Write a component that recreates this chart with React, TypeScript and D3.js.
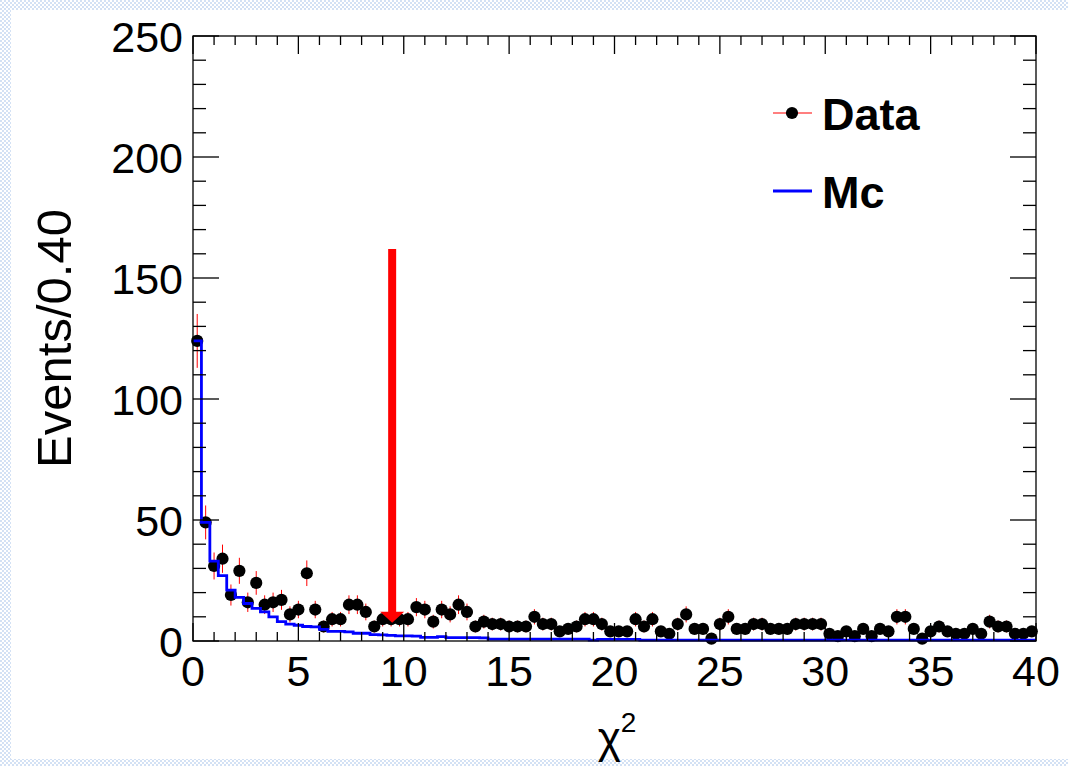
import React from "react";
import * as d3 from "d3";

// ---- data (bin width 0.40, range 0..40) ----
const binEdges0 = 0;
const binWidth = 0.4;
const dataCounts = [
  124, 49, 31, 34, 19, 29, 16, 24, 15, 16, 17, 11, 13, 28, 13, 6, 9, 9, 15, 15,
  12, 6, 9, 9, 9, 9, 14, 13, 8, 13, 11, 15, 12, 6, 8, 7, 7, 6, 6, 6,
  10, 7, 7, 4, 5, 6, 9, 9, 7, 4, 4, 4, 9, 6, 9, 4, 3, 7, 11, 5,
  5, 1, 7, 10, 5, 5, 7, 7, 5, 5, 5, 7, 7, 7, 7, 3, 2, 4, 2, 5,
  2, 5, 4, 10, 10, 5, 1, 4, 6, 4, 3, 3, 5, 3, 8, 6, 6, 3, 3, 4,
];
const mcValues = [
  124, 49, 33, 27, 21, 18, 15.5, 13.5, 12, 10, 8, 7, 6.5, 6, 5.8, 4.8, 4, 4, 3.8, 3.2,
  3.2, 2.6, 2.5, 2.3, 2.1, 2.1, 2.0, 1.5, 1.5, 1.8, 1.4, 1.4, 1.4, 1.4, 1.3, 0.8, 0.8, 0.8, 0.8, 0.8,
  0.8, 0.8, 0.8, 0.8, 0.8, 0.8, 0.8, 0.4, 0.7, 0.7, 0.7, 0.7, 0.7, 0.4, 0.4, 0.4, 0.4, 0.4, 0.4, 0.4,
  0.4, 0.4, 0.4, 0.4, 0.4, 0.4, 0.4, 0.4, 0.4, 0.4, 0.4, 0.4, 0.4, 0.4, 0.4, 0.4, 0.4, 0.4, 0.4, 0.4,
  0.4, 0.4, 0.4, 0.4, 0.4, 0.4, 0.4, 0.4, 0.4, 0.4, 0.4, 0.4, 0.4, 0.4, 0.4, 0.4, 0.4, 0.4, 0.4, 0.4,
];
const xTickLabels = ["0", "5", "10", "15", "20", "25", "30", "35", "40"];
const yTickLabels = ["0", "50", "100", "150", "200", "250"];
const cutValue = 9.45;
const cutTop = 162;
const cutTip = 7.5;
const legendLabels = ["Data", "Mc"];

const W = 1068;
const H = 766;
const FL = 193, FR = 1036, FT = 36, FB = 641;
const FONT = "'Liberation Sans', Arial, Helvetica, sans-serif";
const MR = 6.1;

export default function App() {
  const x = d3.scaleLinear().domain([0, 40]).range([FL, FR]);
  const y = d3.scaleLinear().domain([0, 250]).range([FB, FT]);

  const xMajor = xTickLabels.map(Number);
  const xMinor = d3.range(0, 41, 1).filter((v) => v % 5 !== 0);
  const yMajor = yTickLabels.map(Number);
  const yMinor = d3.range(0, 251, 10).filter((v) => v % 50 !== 0);

  const centers = dataCounts.map((_, i) => binEdges0 + binWidth * (i + 0.5));

  const stepPts: [number, number][] = mcValues.map((v, i) => [binEdges0 + i * binWidth, v]);
  stepPts.push([binEdges0 + mcValues.length * binWidth, mcValues[mcValues.length - 1]]);
  const mcPath = d3
    .line<[number, number]>()
    .x((d) => x(d[0]))
    .y((d) => y(d[1]))
    .curve(d3.curveStepAfter)(stepPts) as string;

  const ax = x(cutValue);
  const tipY = y(cutTip);
  const headLen = 11;
  const headHalf = 12;

  const axisColor = "#000";
  const tickW = 1.3;

  return (
    <svg
      width={W}
      height={H}
      style={{ position: "absolute", left: 0, top: 0, display: "block" }}
      xmlns="http://www.w3.org/2000/svg"
    >
      <defs>
        <pattern id="chk" width="4" height="4" patternUnits="userSpaceOnUse">
          <rect width="4" height="4" fill="#ffffff" />
          <rect width="2" height="2" fill="#d3e1f4" />
          <rect x="2" y="2" width="2" height="2" fill="#d3e1f4" />
        </pattern>
      </defs>
      <rect width={W} height={H} fill="#fff" />
      <rect x={0} y={0} width={W} height={10} fill="url(#chk)" />
      <rect x={0} y={0} width={11} height={H} fill="url(#chk)" />
      <rect x={0} y={759} width={W} height={H - 759} fill="url(#chk)" />

      {/* data error bars + markers */}
      <g>
        {dataCounts.map((n, i) => {
          const e = Math.sqrt(n);
          const cx = x(centers[i]);
          return (
            <g key={"e" + i}>
              <line x1={cx} x2={cx} y1={y(n - e)} y2={y(Math.min(n + e, 250))} stroke="#ff0000" strokeWidth={1} />
              <line
                x1={x(centers[i] - binWidth / 2)}
                x2={x(centers[i] + binWidth / 2)}
                y1={y(n)}
                y2={y(n)}
                stroke="#ff0000"
                strokeWidth={1}
              />
            </g>
          );
        })}
        {dataCounts.map((n, i) => (
          <circle key={"m" + i} cx={x(centers[i])} cy={y(n)} r={MR} fill="#000" />
        ))}
      </g>

      {/* MC histogram */}
      <path d={mcPath} fill="none" stroke="#0000ff" strokeWidth={2.8} />

      {/* cut arrow */}
      <line x1={ax} x2={ax} y1={y(cutTop)} y2={tipY - headLen + 1} stroke="#ff0000" strokeWidth={8} />
      <path
        d={`M${ax - headHalf},${tipY - headLen} L${ax + headHalf},${tipY - headLen} L${ax},${tipY} Z`}
        fill="#ff0000"
      />

      {/* frame */}
      <rect x={FL} y={FT} width={FR - FL} height={FB - FT} fill="none" stroke={axisColor} strokeWidth={1.3} />

      {/* ticks on all four sides */}
      <g stroke={axisColor} strokeWidth={tickW}>
        {xMajor.map((v) => (
          <g key={"xM" + v}>
            <line x1={x(v)} x2={x(v)} y1={FB} y2={FB - 18} />
            <line x1={x(v)} x2={x(v)} y1={FT} y2={FT + 18} />
          </g>
        ))}
        {xMinor.map((v) => (
          <g key={"xm" + v}>
            <line x1={x(v)} x2={x(v)} y1={FB} y2={FB - 9} />
            <line x1={x(v)} x2={x(v)} y1={FT} y2={FT + 9} />
          </g>
        ))}
        {yMajor.map((v) => (
          <g key={"yM" + v}>
            <line x1={FL} x2={FL + 26} y1={y(v)} y2={y(v)} />
            <line x1={FR} x2={FR - 26} y1={y(v)} y2={y(v)} />
          </g>
        ))}
        {yMinor.map((v) => (
          <g key={"ym" + v}>
            <line x1={FL} x2={FL + 13} y1={y(v)} y2={y(v)} />
            <line x1={FR} x2={FR - 13} y1={y(v)} y2={y(v)} />
          </g>
        ))}
      </g>

      {/* tick labels */}
      <g fontFamily={FONT} fontSize={43} fill="#000">
        {xMajor.map((v, i) => (
          <text key={"xl" + v} x={x(v)} y={686} textAnchor="middle">
            {xTickLabels[i]}
          </text>
        ))}
        {yMajor.map((v, i) => (
          <text key={"yl" + v} x={183} y={y(v) + 15.5} textAnchor="end">
            {yTickLabels[i]}
          </text>
        ))}
      </g>

      {/* axis titles */}
      <text
        fontFamily={FONT}
        fontSize={49}
        textAnchor="middle"
        transform={`translate(71,${(FT + FB) / 2}) rotate(-90)`}
      >
        Events/0.40
      </text>
      <text fontFamily={FONT} fontSize={44} x={617} y={753} textAnchor="middle">
        χ<tspan fontSize={28} dy={-21}>2</tspan>
      </text>

      {/* legend */}
      <g fontFamily={FONT} fontWeight="bold" fontSize={45}>
        <line x1={773} x2={812} y1={113} y2={113} stroke="#ff0000" strokeWidth={1.2} />
        <circle cx={792} cy={113} r={MR} fill="#000" />
        <text x={822} y={130}>{legendLabels[0]}</text>
        <line x1={773} x2={812} y1={191} y2={191} stroke="#0000ff" strokeWidth={2.8} />
        <text x={822} y={208}>{legendLabels[1]}</text>
      </g>
    </svg>
  );
}
